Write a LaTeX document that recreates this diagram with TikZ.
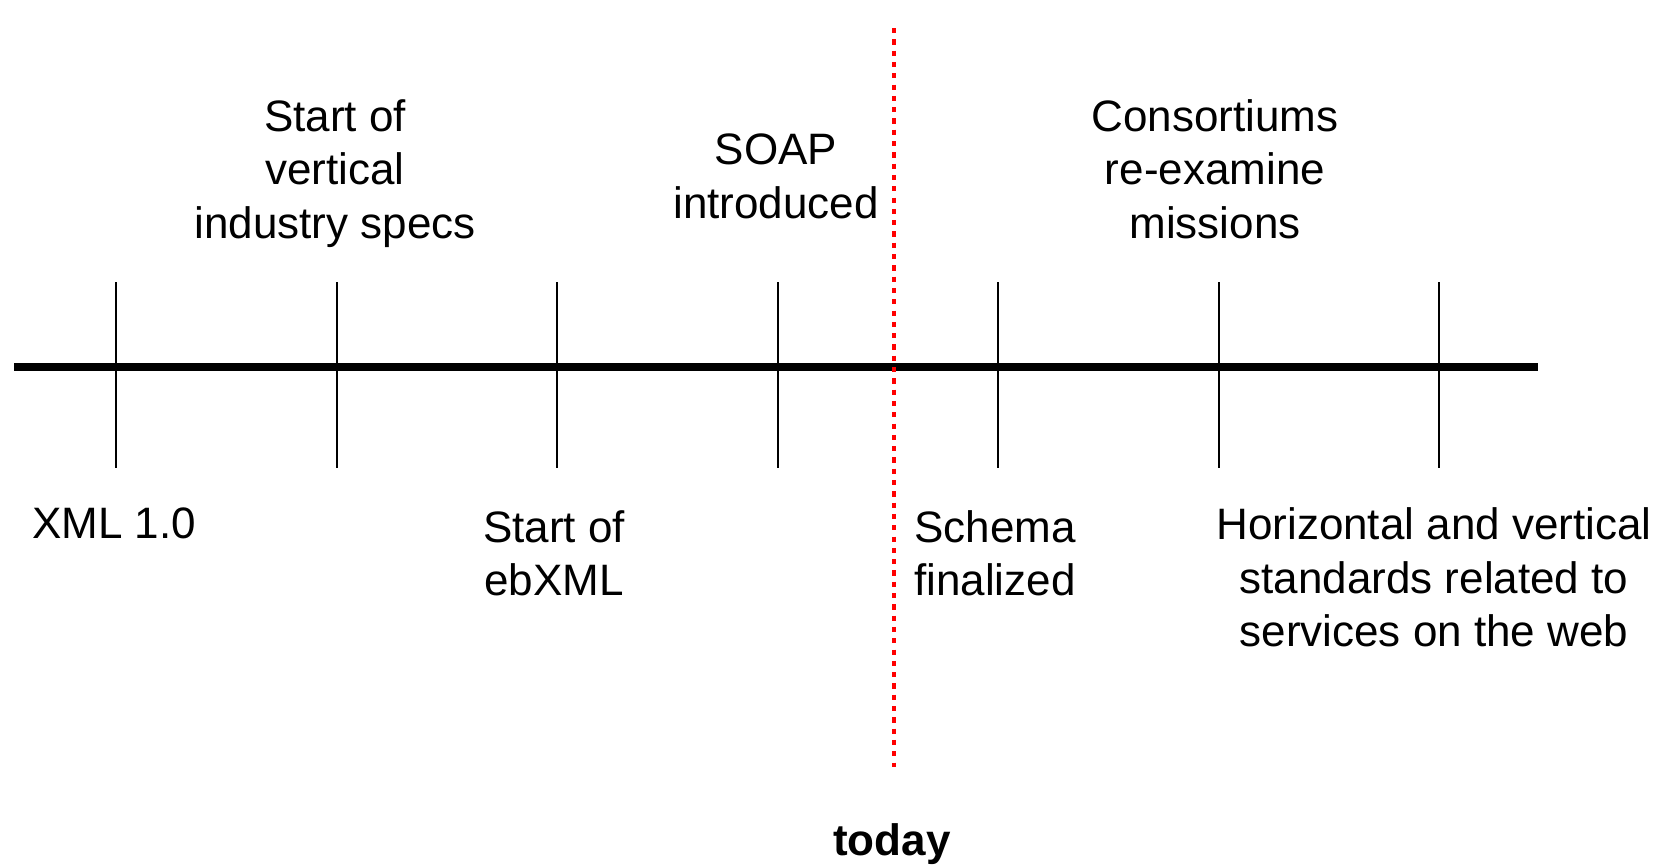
\documentclass[tikz,border=0pt]{standalone}
\usepackage{fontspec}
\setmainfont{Liberation Sans}
\begin{document}
\begin{tikzpicture}[x=0.5pt,y=-0.5pt,
  lbl/.style={inner sep=0pt,align=center,font=\fontsize{22}{26.7}\selectfont},
  tickline/.style={line width=1pt,black},
  axis/.style={line width=4pt,black},
  todayline/.style={line width=2pt,red,dash pattern=on 2.6pt off 3.05pt}]
\useasboundingbox (0,0) rectangle (1660,867);
% axis
\coordinate (L) at (14,367);
\coordinate (R) at (1538,367);
\draw[axis] (L) -- (R);
% ticks
\foreach \i/\x in {1/116,2/337,3/557,4/778,5/998,6/1219,7/1439}{
  \coordinate (t\i top) at (\x,282);
  \coordinate (t\i bot) at (\x,468);
  \draw[tickline] (t\i top) -- (t\i bot);
}
% today line
\coordinate (Ttop) at (894,28);
\coordinate (Tbot) at (894,767);
\draw[todayline] (Ttop) -- (Tbot);
% labels above
\node[lbl] (vert) at (335,173.5) {Start of\\vertical\\industry specs};
\node[lbl] (soap) at (776,176.5) {SOAP\\introduced};
\node[lbl] (cons) at (1215,169) {Consortiums\\re-examine\\missions};
% labels below
\node[lbl,anchor=base] (xml) at (114,538) {XML 1.0};
\node[lbl] (ebxml) at (554,553) {Start of\\ebXML};
\node[lbl] (schema) at (995,553.5) {Schema\\finalized};
\node[lbl] (horiz) at (1434,577.5) {Horizontal and vertical\\standards related to\\services on the web};
% today
\node[lbl,anchor=base,font=\fontsize{22}{26.7}\selectfont\bfseries] (today) at (892,855) {today};
\end{tikzpicture}
\end{document}
